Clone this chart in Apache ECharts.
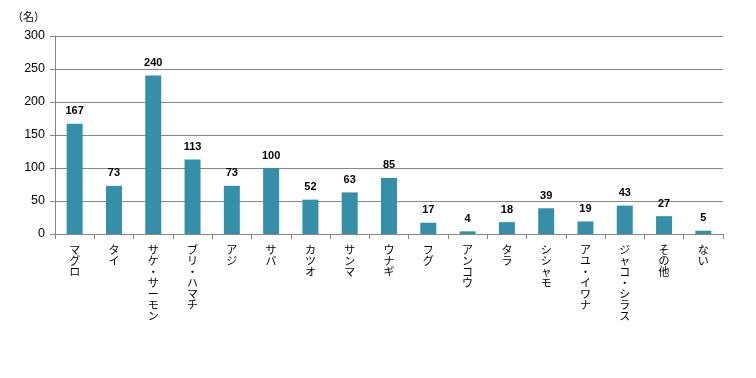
<!DOCTYPE html>
<html><head><meta charset="utf-8">
<script src="https://cdn.jsdelivr.net/npm/echarts@6/dist/echarts.min.js"></script>
<style>html,body{margin:0;padding:0;background:#fff}#c{width:756px;height:378px}</style>
</head><body><div id="c"></div>
<script>
const categories = ['マグロ','タイ','サケ・サーモン','ブリ・ハマチ','アジ','サバ','カツオ','サンマ','ウナギ','フグ','アンコウ','タラ','シシャモ','アユ・イワナ','ジャコ・シラス','その他','ない'];
const values = [167,73,240,113,73,100,52,63,85,17,4,18,39,19,43,27,5];
const yTicks = [0,50,100,150,200,250,300];
const unitLabel = '（名）';

const chart = echarts.init(document.getElementById('c'));
chart.setOption({
  animation: false,
  textStyle: {fontFamily: '"Noto Sans CJK JP", sans-serif'},
  grid: {left: 55, right: 33, top: 36, bottom: 144},
  graphic: [{type: 'text', left: 12, top: 11, style: {text: unitLabel, fontSize: 11, fill: '#000', fontFamily: '"Noto Sans CJK JP", sans-serif'}}],
  xAxis: {
    type: 'category', data: categories,
    axisLine: {lineStyle: {color: '#868686'}},
    axisTick: {show: true, length: 5, lineStyle: {color: '#868686'}},
    axisLabel: {
      interval: 0, color: '#000', fontSize: 11, lineHeight: 11, margin: 10,
      verticalAlign: 'top',
      formatter: v => v.split('').join('\n')
    }
  },
  yAxis: {
    type: 'value', min: yTicks[0], max: yTicks[yTicks.length - 1], interval: 50,
    axisLine: {show: true, lineStyle: {color: '#868686'}},
    axisTick: {show: true, length: 5, inside: false, lineStyle: {color: '#868686'}},
    splitLine: {lineStyle: {color: '#868686'}},
    axisLabel: {color: '#000', fontSize: 12.5, margin: 10, fontFamily: 'Arial, "Liberation Sans", sans-serif'}
  },
  series: [{
    type: 'bar', data: values, barWidth: 16,
    itemStyle: {color: '#358FA9'},
    label: {show: true, position: 'top', distance: 7, color: '#000', fontWeight: 'bold', fontSize: 11, fontFamily: 'Arial, "Liberation Sans", sans-serif'}
  }]
});
</script></body></html>
